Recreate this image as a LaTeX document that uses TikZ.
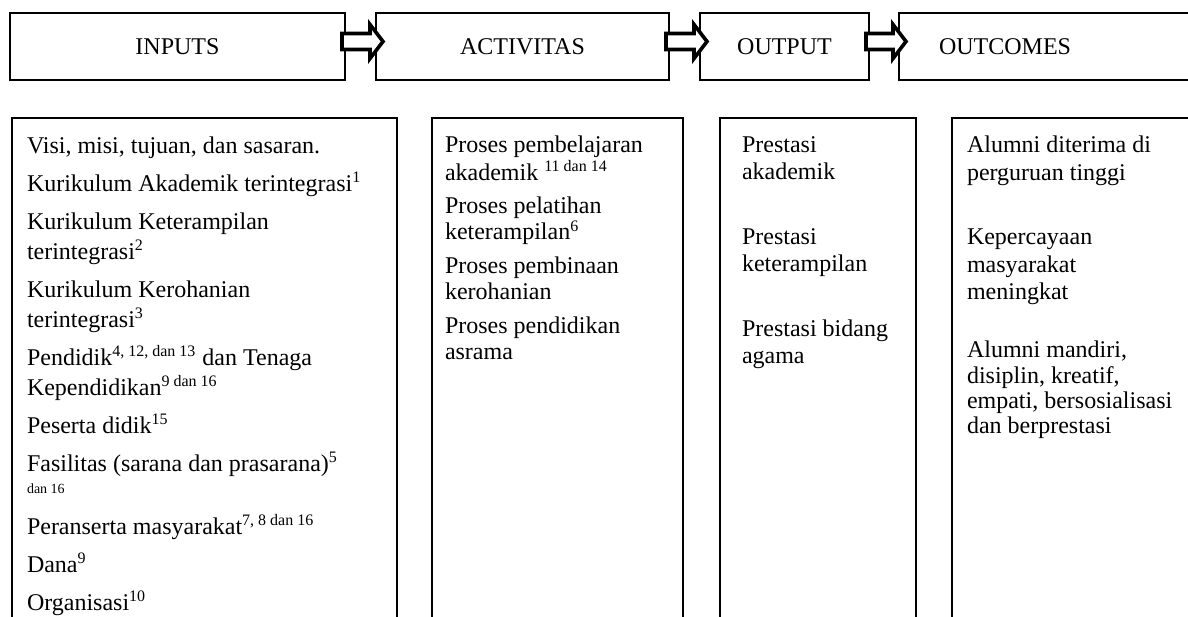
\documentclass[tikz,border=0pt]{standalone}
\usepackage{fontspec}
\setmainfont{Liberation Serif}
\usetikzlibrary{positioning,calc}

\newcommand{\firstline}{\rule{0pt}{10pt}}
% hollow block arrow between two heading boxes
\newcommand{\linkboxes}[2]{%
  \draw[blockarrow] ($(#1.east)+(-1.5,6.5)$) -- ($(#2.west)+(-3,6.5)$)
    -- ($(#2.west)+(-3,11)$) -- ($(#2.west)+(3.5,2.5)$)
    -- ($(#2.west)+(-3,-6)$) -- ($(#2.west)+(-3,-1.5)$)
    -- ($(#1.east)+(-1.5,-1.5)$) -- cycle;}

\begin{document}
\begin{tikzpicture}[x=1pt, y=1pt, node distance=15.5pt,
  head/.style = {draw, line width=1pt, outer sep=0pt, inner sep=0pt, minimum height=33.5pt, font=\fontsize{12}{14}\selectfont},
  colbox/.style = {draw, line width=1pt, outer sep=0pt, inner sep=0pt, anchor=north west, minimum height=290pt},
  coltext/.style = {align=left, inner sep=0pt, outer sep=0pt},
  blockarrow/.style = {draw, fill=white, line width=1.8pt}]
\useasboundingbox (0,0) rectangle (594,308);
\clip (0,0) rectangle (594,308);

% heading row
\node[head, minimum width=167.5pt] (inputs) at (88.75,284.75) {INPUTS};
\node[head, minimum width=146.5pt] (activitas) [right=of inputs] {ACTIVITAS};
\node[head, minimum width=84.5pt] (output) [right=of activitas] {OUTPUT};
\node[head, text width=160pt, inner xsep=20pt, align=left] (outcomes) [right=15pt of output] {OUTCOMES};

% columns
\node[colbox, minimum width=192.5pt] (inpbox) at (6,249) {};
\node[colbox, minimum width=125.5pt] (actbox) at (216,249) {};
\node[colbox, minimum width=98pt] (outbox) at (360,249) {};
\node[colbox, minimum width=200pt] (outcbox) at (476,249) {};

\node[coltext, font=\fontsize{12}{15}\selectfont] (inptext) [below right=7.5pt and 7.5pt of inpbox.north west] {\firstline Visi, misi, tujuan, dan sasaran.\\[4pt]
Kurikulum Akademik terintegrasi\textsuperscript{1}\\[4pt]
Kurikulum Keterampilan\\
terintegrasi\textsuperscript{2}\\[4pt]
Kurikulum Kerohanian\\
terintegrasi\textsuperscript{3}\\[4pt]
Pendidik\textsuperscript{4, 12, dan 13} dan Tenaga\\
Kependidikan\textsuperscript{9 dan 16}\\[4pt]
Peserta didik\textsuperscript{15}\\[4pt]
Fasilitas (sarana dan prasarana)\textsuperscript{5}\\[-4pt]
{\scriptsize dan 16}\\[5.5pt]
Peranserta masyarakat\textsuperscript{7, 8 dan 16}\\[4pt]
Dana\textsuperscript{9}\\[4pt]
Organisasi\textsuperscript{10}};

\node[coltext, font=\fontsize{12}{13.5}\selectfont] (acttext) [below right=7.5pt and 6.5pt of actbox.north west] {\firstline Proses pembelajaran\\
akademik \textsuperscript{11 dan 14}\\[3pt]
Proses pelatihan\\
keterampilan\textsuperscript{6}\\[3pt]
Proses pembinaan\\
kerohanian\\[3pt]
Proses pendidikan\\
asrama};

\node[coltext, font=\fontsize{12}{13.5}\selectfont] (outtext) [below right=7.5pt and 11pt of outbox.north west] {\firstline Prestasi\\
akademik\\[19pt]
Prestasi\\
keterampilan\\[19pt]
Prestasi bidang\\
agama};

\node[coltext, font=\fontsize{12}{13.5}\selectfont] (outctext) [below right=7.5pt and 7.5pt of outcbox.north west] {\firstline Alumni diterima di\\
perguruan tinggi\\[19pt]
Kepercayaan\\
masyarakat\\
meningkat\\[16pt]
Alumni mandiri,\\[-1pt]
disiplin, kreatif,\\[-1pt]
empati, bersosialisasi\\[-1pt]
dan berprestasi};

% arrows
\linkboxes{inputs}{activitas}
\linkboxes{activitas}{output}
\linkboxes{output}{outcomes}
\end{tikzpicture}
\end{document}
